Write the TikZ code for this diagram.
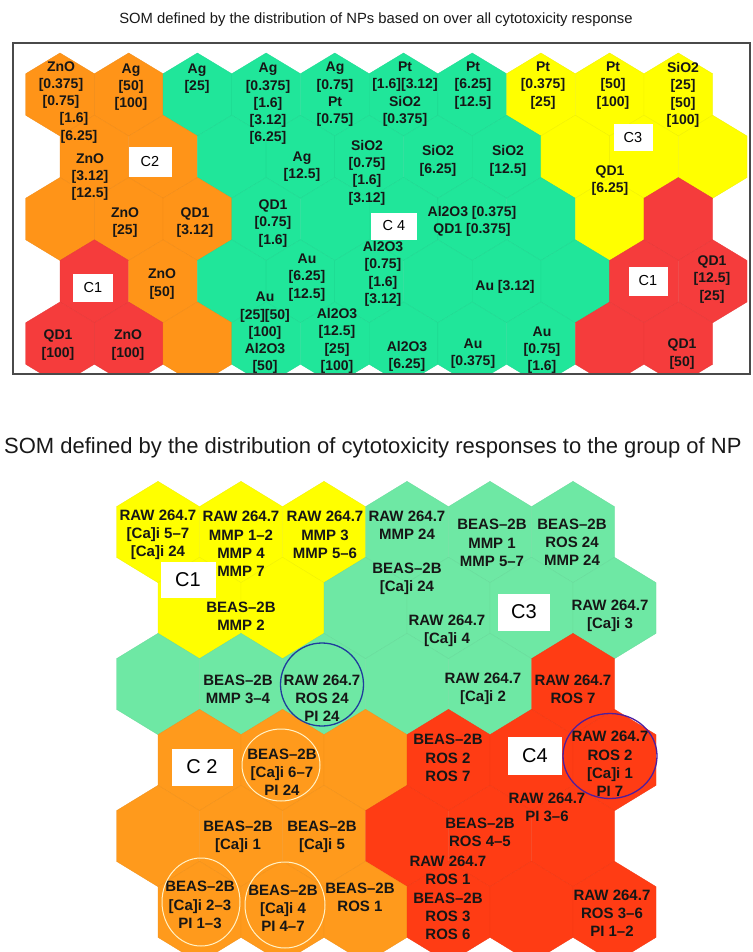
\documentclass[tikz,border=0pt]{standalone}
\usepackage{fontspec}
\setmainfont{Liberation Sans}
\definecolor{tOr}{HTML}{FF9418}
\definecolor{tGr}{HTML}{20E69A}
\definecolor{tYe}{HTML}{FFFF00}
\definecolor{tRe}{HTML}{F53C3C}
\definecolor{bOr}{HTML}{FF9A1C}
\definecolor{bGr}{HTML}{6EE8A4}
\definecolor{bYe}{HTML}{FFFF00}
\definecolor{bRe}{HTML}{FF3C14}
\definecolor{txt}{HTML}{161616}
\definecolor{frm}{HTML}{4A4A4A}
\definecolor{blc}{HTML}{1F3C9C}
\definecolor{puc}{HTML}{4E1E9E}
\definecolor{crc}{HTML}{FFF2C6}
\newcommand\hx[5]{%
  \filldraw[fill=#5, draw=#5!94!black, line width=0.3pt]
   ({#1-#3},{#2-0.5*#4}) -- (#1,{#2-#4}) -- ({#1+#3},{#2-0.5*#4}) --
   ({#1+#3},{#2+0.5*#4}) -- (#1,{#2+#4}) -- ({#1-#3},{#2+0.5*#4}) -- cycle;}
\tikzset{
  lt/.style={align=center, font=\bfseries\fontsize{14}{17.3}\selectfont, text=txt, inner sep=0pt},
  lb/.style={align=center, font=\bfseries\fontsize{15}{18.2}\selectfont, text=txt, inner sep=0pt},
  ctop/.style={fill=white, inner sep=0pt, font=\fontsize{14.5}{16}\selectfont, text=black},
  cbot/.style={fill=white, inner sep=0pt, font=\fontsize{20}{22}\selectfont, text=black},
}
\begin{document}
\begin{tikzpicture}[x=1pt, y=-1pt]
\useasboundingbox (0,0) rectangle (752,952);
\fill[white] (0,0) rectangle (752,952);

% ---------- titles ----------
\node[font=\fontsize{14.8}{17}\selectfont, text=black!90] (title1) at (376,20)
  {SOM defined by the distribution of NPs based on over all cytotoxicity response};
\node[font=\fontsize{22}{24}\selectfont, text=black!90, anchor=west, inner sep=0pt] (title2) at (4,448)
  {SOM defined by the distribution of cytotoxicity responses to the group of NP};

% ---------- top SOM ----------
\begin{scope}
\clip (13,43) rectangle (750,374);
\foreach \r/\lst in {
  1/{tOr,tOr,tGr,tGr,tGr,tGr,tGr,tYe,tYe,tYe},
  2/{tOr,tOr,tGr,tGr,tGr,tGr,tGr,tYe,tYe,tYe},
  3/{tOr,tOr,tOr,tGr,tGr,tGr,tGr,tGr,tYe,tRe},
  4/{tRe,tOr,tGr,tGr,tGr,tGr,tGr,tGr,tRe,tRe},
  5/{tRe,tRe,tOr,tGr,tGr,tGr,tGr,tGr,tRe,tRe}}{
  \foreach \c [count=\i from 0] in \lst {
    \pgfmathsetmacro{\cx}{60 + 34.35*(1-mod(\r,2)) + 68.7*\i}
    \pgfmathsetmacro{\cy}{94.5 + 62.25*(\r-1)}
    \hx{\cx}{\cy}{34.35}{41.5}{\c}
  }
}
\end{scope}
\draw[frm, line width=1.5pt] (13,43) rectangle (750,374);

\node[lt] (zno1) at (61,85) {ZnO\\{[0.375]}\\{[0.75]}};
\node[lt] (zno1b) at (74,119) {[1.6]};
\node[lt] (zno1c) at (79,137) {[6.25]};
\node[lt] (zno2) at (90,177) {ZnO\\{[3.12]}\\{[12.5]}};
\node[lt] (ag50) at (131,87) {Ag\\{[50]}\\{[100]}};
\node[lt] (ag25) at (197,78.5) {Ag\\{[25]}};
\node[lt] (ag0375) at (268,104) {Ag\\{[0.375]}\\{[1.6]}\\{[3.12]}\\{[6.25]}};
\node[lt] (ag075) at (335,94.5) {Ag\\{[0.75]}\\Pt\\{[0.75]}};
\node[lt] (pt16) at (405,94) {Pt\\{[1.6][3.12]}\\SiO2\\{[0.375]}};
\node[lt] (pt625) at (473,85.5) {Pt\\{[6.25]}\\{[12.5]}};
\node[lt] (pt0375) at (543,85.5) {Pt\\{[0.375]}\\{[25]}};
\node[lt] (pt50) at (613,85.5) {Pt\\{[50]}\\{[100]}};
\node[lt] (sio25) at (683,95) {SiO2\\{[25]}\\{[50]}\\{[100]}};
\node[lt] (ag125) at (302,166.5) {Ag\\{[12.5]}};
\node[lt] (sio075) at (367,172.5) {SiO2\\{[0.75]}\\{[1.6]}\\{[3.12]}};
\node[lt] (sio625) at (438,161) {SiO2\\{[6.25]}};
\node[lt] (sio125) at (508,161) {SiO2\\{[12.5]}};
\node[lt] (qd625) at (610,180.5) {QD1\\{[6.25]}};
\node[lt] (zno25) at (125,222.5) {ZnO\\{[25]}};
\node[lt] (qd312) at (195,222.5) {QD1\\{[3.12]}};
\node[lt] (qd075) at (273,223.5) {QD1\\{[0.75]}\\{[1.6]}};
\node[lt] (al0375) at (472,221.5) {Al2O3 [0.375]\\QD1 [0.375]};
\node[lt] (al075) at (383,274) {Al2O3\\{[0.75]}\\{[1.6]}\\{[3.12]}};
\node[lt] (au625) at (307,277.5) {Au\\{[6.25]}\\{[12.5]}};
\node[lt] (au312) at (505,287) {Au [3.12]};
\node[lt] (zno50) at (162,284) {ZnO\\{[50]}};
\node[lt] (qd125) at (712,279.5) {QD1\\{[12.5]}\\{[25]}};
\node[lt] (au25) at (265,333) {Au\\{[25][50]}\\{[100]}\\Al2O3\\{[50]}};
\node[lt] (al125) at (337,341) {Al2O3\\{[12.5]}\\{[25]}\\{[100]}};
\node[lt] (al625) at (407,356.5) {Al2O3\\{[6.25]}};
\node[lt] (au0375) at (473,353.5) {Au\\{[0.375]}};
\node[lt] (au075) at (542,350) {Au\\{[0.75]}\\{[1.6]}};
\node[lt] (qd50) at (682,354) {QD1\\{[50]}};
\node[lt] (qd100) at (58,345) {QD1\\{[100]}};
\node[lt] (zno100) at (128,345) {ZnO\\{[100]}};

\node[ctop, minimum width=43pt, minimum height=30pt] (c2t) at (150,162) {C2};
\node[ctop, minimum width=39pt, minimum height=27pt] (c3t) at (633,138) {C3};
\node[ctop, minimum width=46pt, minimum height=27pt] (c4t) at (394,226) {C 4};
\node[ctop, minimum width=40pt, minimum height=28pt] (c1tl) at (93,288) {C1};
\node[ctop, minimum width=39pt, minimum height=29pt] (c1tr) at (648,281) {C1};

% ---------- bottom SOM ----------
\begin{scope}
\clip (0,460) rectangle (752,952);
\foreach \r/\lst in {
  1/{bYe,bYe,bYe,bGr,bGr,bGr},
  2/{bYe,bYe,bGr,bGr,bGr,bGr},
  3/{bGr,bGr,bGr,bGr,bGr,bRe},
  4/{bOr,bOr,bOr,bRe,bRe,bRe},
  5/{bOr,bOr,bOr,bRe,bRe,bRe},
  6/{bOr,bOr,bOr,bRe,bRe,bRe}}{
  \foreach \c [count=\i from 0] in \lst {
    \pgfmathsetmacro{\cx}{158 + 41.5*(1-mod(\r,2)) + 83*\i}
    \pgfmathsetmacro{\cy}{532 + 76*(\r-1)}
    \hx{\cx}{\cy}{41.5}{50.67}{\c}
  }
}
\end{scope}

\node[lb] (b1) at (158,535) {RAW 264.7\\{[Ca]i 5–7}\\{[Ca]i 24}};
\node[lb] (b2) at (241,544) {RAW 264.7\\MMP 1–2\\MMP 4\\MMP 7};
\node[lb] (b3) at (325,535) {RAW 264.7\\MMP 3\\MMP 5–6};
\node[lb] (b4) at (407,525) {RAW 264.7\\MMP 24};
\node[lb] (b5) at (492,543) {BEAS–2B\\MMP 1\\MMP 5–7};
\node[lb] (b6) at (572,542) {BEAS–2B\\ROS 24\\MMP 24};
\node[lb] (b7) at (241,616) {BEAS–2B\\MMP 2};
\node[lb] (b8) at (407,579) {BEAS–2B\\{[Ca]i 24}};
\node[lb] (b9) at (447,631) {RAW 264.7\\{[Ca]i 4}};
\node[lb] (b10) at (610,616) {RAW 264.7\\{[Ca]i 3}};
\node[lb] (b11) at (238,689) {BEAS–2B\\MMP 3–4};
\node[lb] (b12) at (322,698) {RAW 264.7\\ROS 24\\PI 24};
\node[lb] (b13) at (483,689) {RAW 264.7\\{[Ca]i 2}};
\node[lb] (b14) at (573,689) {RAW 264.7\\ROS 7};
\node[lb] (b15) at (282,772) {BEAS–2B\\{[Ca]i 6–7}\\PI 24};
\node[lb] (b16) at (448,758) {BEAS–2B\\ROS 2\\ROS 7};
\node[lb] (b17) at (610,764) {RAW 264.7\\ROS 2\\{[Ca]i 1}\\PI 7};
\node[lb] (b18) at (238,837) {BEAS–2B\\{[Ca]i 1}};
\node[lb] (b19) at (322,837) {BEAS–2B\\{[Ca]i 5}};
\node[lb] (b20) at (480,832) {BEAS–2B\\ROS 4–5};
\node[lb] (b21) at (547,807) {RAW 264.7\\PI 3–6};
\node[lb] (b22) at (200,905) {BEAS–2B\\{[Ca]i 2–3}\\PI 1–3};
\node[lb] (b23) at (283,908) {BEAS–2B\\{[Ca]i 4}\\PI 4–7};
\node[lb] (b24) at (360,897) {BEAS–2B\\ROS 1};
\node[lb] (b25) at (448,898) {RAW 264.7\\ROS 1\\BEAS–2B\\ROS 3\\ROS 6};
\node[lb] (b26) at (612,913) {RAW 264.7\\ROS 3–6\\PI 1–2};

\node[cbot, minimum width=55pt, minimum height=36pt] (c1b) at (188,580) {C1};
\node[cbot, minimum width=52pt, minimum height=37pt] (c3b) at (524,612) {C3};
\node[cbot, minimum width=61pt, minimum height=37pt] (c2b) at (202,767) {C 2};
\node[cbot, minimum width=54pt, minimum height=38pt] (c4b) at (535,756) {C4};

% circles
\draw[blc, line width=1.3pt] (322,684.5) ellipse [x radius=41.5pt, y radius=41.5pt];
\draw[puc, line width=1.3pt] (610,756) ellipse [x radius=47pt, y radius=42.5pt];
\draw[crc, line width=1pt] (281,765) ellipse [x radius=39pt, y radius=36pt];
\draw[crc, line width=1pt] (201,902) ellipse [x radius=39pt, y radius=44pt];
\draw[crc, line width=1pt] (285,905) ellipse [x radius=40pt, y radius=43pt];
\end{tikzpicture}
\end{document}
